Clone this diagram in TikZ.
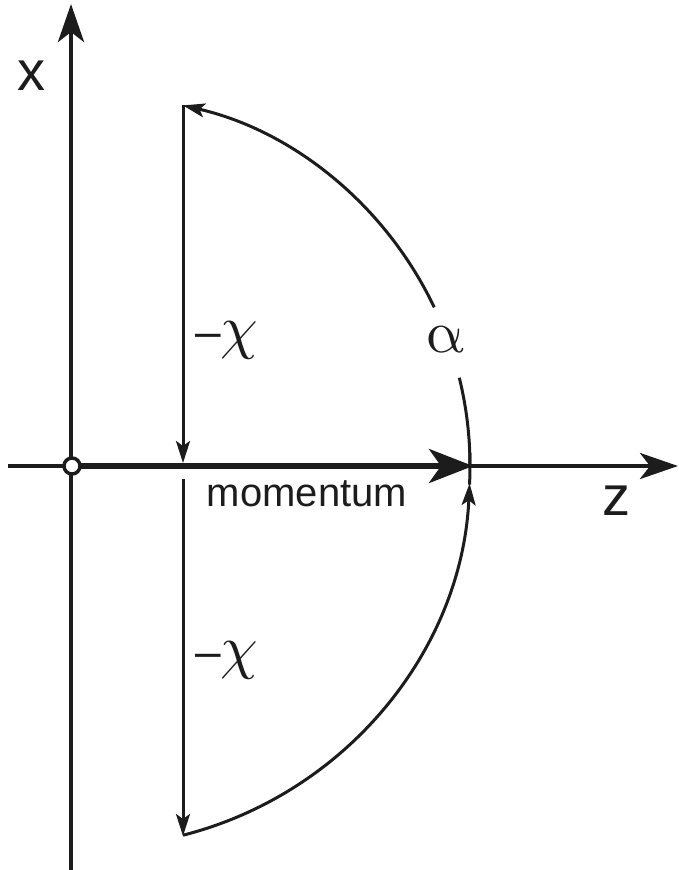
\documentclass[tikz,border=0pt]{standalone}
\usepackage{fontspec}
\usepackage{unicode-math}
\setmainfont{Liberation Sans}
\setmathfont{Latin Modern Math}
\usetikzlibrary{arrows.meta,calc}
\definecolor{ink}{HTML}{1C1C1C}
\tikzset{
  axis/.style={draw=ink,line width=4.5pt,-{Stealth[length=38pt,width=26pt,inset=10pt]}},
  mom/.style={draw=ink,line width=5.5pt,-{Stealth[length=44pt,width=34pt,inset=12pt]}},
  thin/.style={draw=ink,line width=3pt,-{Stealth[length=22pt,width=14pt,inset=5pt]}},
  plain/.style={draw=ink,line width=3pt},
  lab/.style={inner sep=0pt,text=ink,font=\fontsize{56}{60}\selectfont},
  mlab/.style={inner sep=0pt,text=ink,font=\fontsize{40}{48}\selectfont},
  glab/.style={inner sep=0pt,text=ink,font=\fontsize{60}{64}\selectfont},
}
\newcommand{\mdash}{{\fontsize{46}{50}\selectfont –}}
\begin{document}
\begin{tikzpicture}[x=1pt,y=-1pt]
\useasboundingbox (0,0) rectangle (679,870);
% coordinates
\coordinate (O) at (72,466);
\coordinate (xbot) at (71,870);
\coordinate (xtop) at (71,4);
\coordinate (zleft) at (8,466);
\coordinate (zright) at (678,466);
\coordinate (mtip) at (473,466);
\coordinate (Cu) at (100,466);
\coordinate (Cl) at (89,466);
\coordinate (A) at (183,105);
\coordinate (B) at (183,836);
\coordinate (vu) at (183,463);
\coordinate (vl) at (183,479);
% axes
\draw[axis] (xbot) -- (xtop);
\draw[axis,line width=4pt] (zleft) -- (zright);
\draw[mom] (O) -- (mtip);
% upper arc (with gap for alpha)
\draw[plain] ($(Cu)+(0:370)$) arc[start angle=0,end angle=-13.8,radius=370];
\draw[thin] ($(Cu)+(-25.4:370)$) arc[start angle=-25.4,end angle=-77.04,radius=370];
% lower arc
\draw[thin] ($(Cl)+(75.7:381)$) arc[start angle=75.7,end angle=2.6,radius=381];
\draw[plain] ($(Cl)+(2.8:381)$) arc[start angle=2.8,end angle=-2,radius=381];
% vertical thin arrows
\draw[thin] (A) -- (vu);
\draw[thin] (vl) -- (B);
% origin circle
\node[circle,draw=ink,line width=3.5pt,fill=white,minimum size=16pt,inner sep=0pt] (o) at (O) {};
% labels
\node[lab] (xl) at (31,76) {x};
\node[lab] (zl) at (616,501) {z};
\node[mlab] (ml) at (307,494) {momentum};
\node[glab,anchor=west] (c1) at (195,340) {\mdash$\chi$};
\node[glab,anchor=west] (c2) at (195,660) {\mdash$\chi$};
\node[glab] (al) at (445,340) {$\symup{\alpha}$};
\end{tikzpicture}
\end{document}
